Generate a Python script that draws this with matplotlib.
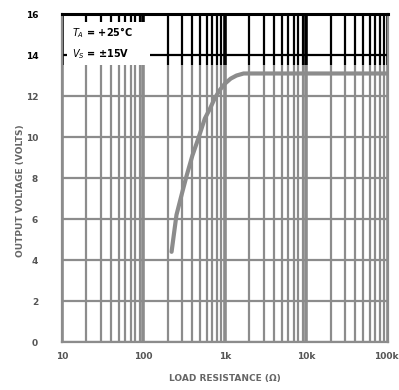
import matplotlib
matplotlib.use('Agg')
import matplotlib.pyplot as plt
import matplotlib.transforms as mtrans
from matplotlib.patches import Rectangle

# curve
r_load = [222, 255, 300, 339, 400, 470, 568, 660, 754, 870, 1000, 1180, 1390, 1700, 2030, 3000, 10000, 100000]
v_out = [4.4, 6.2, 7.3, 8.1, 9.1, 9.9, 10.9, 11.4, 11.9, 12.3, 12.6, 12.85, 13.0, 13.1, 13.1, 13.1, 13.1, 13.1]

x_ticks = [10, 100, 1000, 10000, 100000]
x_labels = ['10', '100', '1k', '10k', '100k']
y_ticks = [0, 2, 4, 6, 8, 10, 12, 14, 16]

gray = '#8c8c8c'
split = 13.5  # scan is black above this, gray below

fig = plt.figure(figsize=(3.99, 3.90), dpi=100)
ax = fig.add_axes([0.155, 0.123, 0.817, 0.841])
ax.set_xscale('log')
ax.set_xlim(10, 100000)
ax.set_ylim(0, 16)

# vertical grid, one line for every 1..9 in each decade
grid_x = []
for d in [10, 100, 1000, 10000]:
    for m in range(1, 10):
        grid_x.append(d * m)
grid_x.append(100000)
for gx in grid_x:
    lw = 2.6 if gx in x_ticks else 1.6
    ax.vlines(gx, 0, split, color=gray, lw=lw, zorder=1)
    ax.vlines(gx, split, 16, color='black', lw=lw, zorder=1)

for gy in y_ticks:
    c = 'black' if gy > split else gray
    ax.axhline(gy, color=c, lw=1.6, zorder=1)

ax.plot(r_load, v_out, color=gray, lw=3, solid_capstyle='round', zorder=3)

for s in ax.spines.values():
    s.set_color(gray)
    s.set_linewidth(1.6)
ax.spines['top'].set_color('black')
ax.spines['top'].set_linewidth(2.2)

ax.set_xticks(x_ticks)
ax.set_xticklabels(x_labels)
ax.xaxis.set_minor_locator(matplotlib.ticker.NullLocator())
ax.set_yticks(y_ticks)
ax.tick_params(length=0, labelsize=6.5, colors='#555555', pad=17)
ax.tick_params(axis='x', pad=7)
for t in ax.get_xticklabels() + ax.get_yticklabels():
    t.set_fontweight('bold')
for t in ax.get_yticklabels()[-2:]:
    t.set_color('black')
last = ax.get_xticklabels()[-1]
last.set_ha('right')
last.set_transform(last.get_transform() + mtrans.ScaledTranslation(0.11, 0, fig.dpi_scale_trans))

# white patch behind the conditions text, as on the sheet
ax.add_patch(Rectangle((11.5, 13.5), 108, 2.1, facecolor='white', edgecolor='none', zorder=4))
ax.text(13.5, 15.45, '$T_A$ = +25°C\n$V_S$ = ±15V',
        fontsize=7, fontweight='bold', va='top', ha='left', linespacing=1.7, zorder=5)

ax.set_xlabel('LOAD RESISTANCE (Ω)', fontsize=6.5, fontweight='bold', color='#666666')
ax.set_ylabel('OUTPUT VOLTAGE (VOLTS)', fontsize=6.5, fontweight='bold', color='#666666')
ax.xaxis.set_label_coords(0.5, -0.11)
ax.xaxis.label.set_va('center')
ax.yaxis.set_label_coords(-0.128, 0.46)
ax.yaxis.label.set_va('center')

fig.savefig('out.png', dpi=100)
